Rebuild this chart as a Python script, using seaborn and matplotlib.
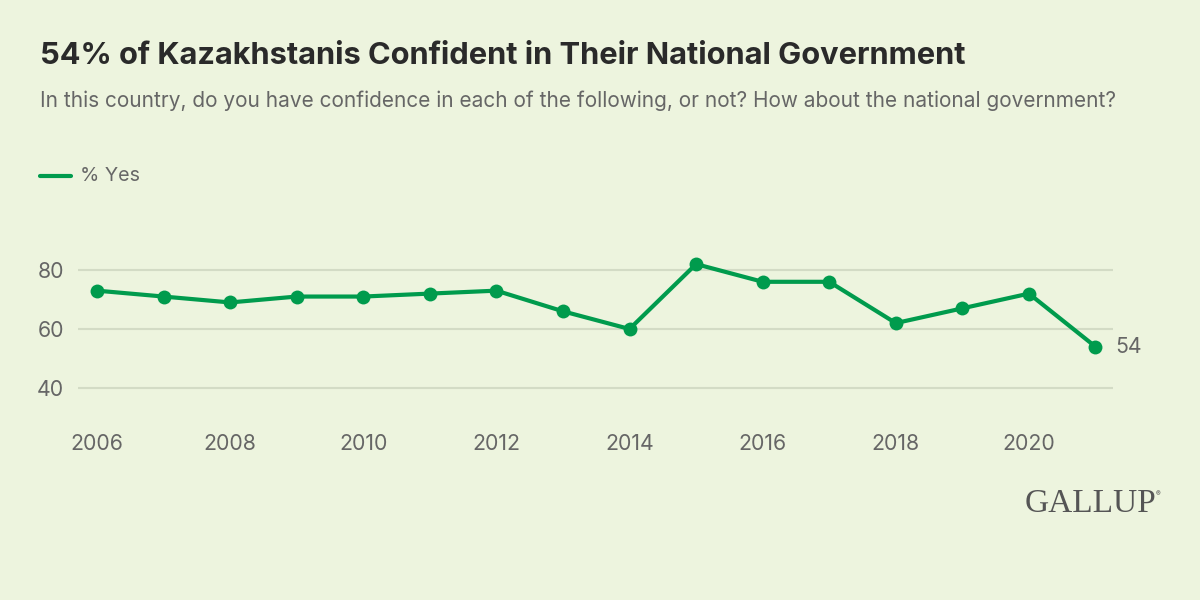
import pandas as pd
import matplotlib.pyplot as plt
import seaborn as sns

# Данные
years = [2006, 2007, 2008, 2009, 2010, 2011, 2012, 2013, 2014, 2015, 2016, 2017, 2018, 2019, 2020, 2021]
yes_pct = [73, 71, 69, 71, 71, 72, 73, 66, 60, 82, 76, 76, 62, 67, 72, 54]
x_ticks = [2006, 2008, 2010, 2012, 2014, 2016, 2018, 2020]
y_ticks = [40, 60, 80]

title = '54% of Kazakhstanis Confident in Their National Government'
subtitle = 'In this country, do you have confidence in each of the following, or not? How about the national government?'
series_name = '% Yes'

bg = '#EDF4DE'
green = '#009B4D'
grid_c = '#D3DBC5'
gray = '#666666'

df = pd.DataFrame({'year': years, 'value': yes_pct})

sns.set_theme(style='white')
plt.rcParams['font.family'] = ['Inter', 'DejaVu Sans']

fig = plt.figure(figsize=(12, 6), dpi=100, facecolor=bg)
ax = fig.add_axes([78 / 1200, 1 - 417.5 / 600, (1113 - 78) / 1200, (417.5 - 240.5) / 600])
ax.set_facecolor(bg)

sns.lineplot(data=df, x='year', y='value', ax=ax, color=green, linewidth=3,
             marker='o', markersize=10, markeredgewidth=0, zorder=3)

ax.set_xlim(2005.715, 2021.263)
ax.set_ylim(30, 90)
ax.set_xticks(x_ticks)
ax.set_yticks(y_ticks)
ax.set_xlabel('')
ax.set_ylabel('')
for s in ax.spines.values():
    s.set_visible(False)
ax.grid(axis='y', color=grid_c, linewidth=1.5)
ax.grid(axis='x', visible=False)
ax.tick_params(axis='x', length=0, pad=12, labelsize=15.3, labelcolor=gray)
ax.tick_params(axis='y', length=0, pad=10, labelsize=15.3, labelcolor=gray)

# подпись последней точки
ax.annotate(str(yes_pct[-1]), (years[-1], yes_pct[-1]), xytext=(14, 0),
            textcoords='offset points', va='center', ha='left',
            fontsize=15.3, color=gray)

# заголовки
fig.text(40 / 1200, 1 - 56 / 600, title, fontsize=22.2, fontweight='bold',
         color='#2A2A2A', va='center', ha='left')
fig.text(40 / 1200, 1 - 101 / 600, subtitle, fontsize=15, color=gray,
         va='center', ha='left')

# легенда
fig.add_artist(plt.Line2D([40 / 1200, 71 / 1200], [1 - 176 / 600, 1 - 176 / 600],
                          color=green, linewidth=3, transform=fig.transFigure))
fig.text(80 / 1200, 1 - 176 / 600, series_name, fontsize=14.2, color=gray,
         va='center', ha='left')

# логотип
fig.text(1156 / 1200, 1 - 504 / 600, 'GALLUP', fontsize=24, color='#555555',
         family=['Liberation Serif', 'DejaVu Serif'], va='center', ha='right')
fig.text(1156 / 1200, 1 - 494 / 600, '®', fontsize=5, color='#555555',
         va='center', ha='left')

fig.savefig('out.png', dpi=100, facecolor=bg)
